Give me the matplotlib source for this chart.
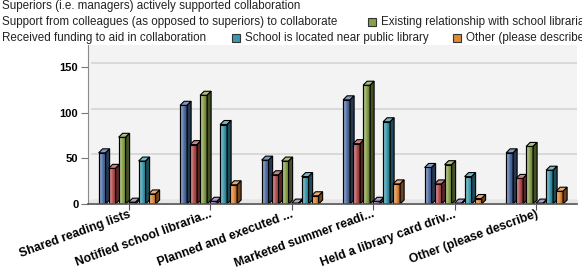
import matplotlib
matplotlib.use("Agg")
import matplotlib.pyplot as plt
import matplotlib.patches as mpatches
from matplotlib.colors import LinearSegmentedColormap, to_rgb
from matplotlib.transforms import blended_transform_factory, ScaledTranslation
import numpy as np

# Data
categories = ["Shared reading lists", "Notified school libraria...", "Planned and executed ...",
              "Marketed summer readi...", "Held a library card driv...", "Other (please describe)"]
series_names = ["Superiors (i.e. managers) actively supported collaboration",
                "Support from colleagues (as opposed to superiors) to collaborate",
                "Existing relationship with school librarian",
                "Received funding to aid in collaboration",
                "School is located near public library",
                "Other (please describe)"]
superiors = [56, 108, 48, 114, 40, 56]
colleagues = [39, 65, 32, 66, 22, 28]
existing = [73, 119, 47, 130, 43, 63]
funding = [2, 3, 1, 3, 1, 1]
near_library = [47, 87, 30, 90, 30, 37]
other = [11, 21, 9, 22, 6, 14]
values = [superiors, colleagues, existing, funding, near_library, other]
colors = ["#4e6fa3", "#b34d4d", "#87a04a", "#8677a8", "#3b98ad", "#e0893a"]


def shade(c, f):
    c = np.array(to_rgb(c))
    if f >= 0:
        return tuple(c + (1 - c) * f)
    return tuple(c * (1 + f))


W, H, DPI = 5.82, 2.73, 100
fig = plt.figure(figsize=(W, H), dpi=DPI)
plt.rcParams['font.family'] = ['Liberation Sans', 'DejaVu Sans']

# axes box in pixels: x 88..577, y 45..204 (from top)
ax = fig.add_axes([88 / 582, 1 - 204 / 273, (577 - 88) / 582, (204 - 45) / 273])
ax.set_facecolor("#f3f3f3")
ymax = 174
ax.set_xlim(-0.5, 5.5)
ax.set_ylim(0, ymax)

px_x = 6 / (577 - 88)          # data units per pixel, x
px_y = ymax / (204 - 45)       # data units per pixel, y
dx, dy = 4 * px_x, 4 * px_y    # 3D depth
pitch = 10 * px_x
bw = 7 * px_x

# back wall grid lines and floor
for g in [50, 100, 150]:
    ax.axhline(g + dy, xmin=dx / 6, color="#d4d4d4", lw=1.2, zorder=0)
ax.axhline(dy, xmin=dx / 6, color="#c8c8c8", lw=1.0, zorder=0)
ax.fill_between([-0.5, 5.5], 0, dy, color="#e6e6e6", zorder=0)

x = np.arange(len(categories))
for i, (vals, col) in enumerate(zip(values, colors)):
    cm = LinearSegmentedColormap.from_list(
        "g%d" % i, [(0, shade(col, -0.15)), (0.22, shade(col, 0.35)),
                    (0.6, col), (1, shade(col, -0.3))])
    xs = x + (i - 2.5) * pitch - 0.02
    z = 2 + i
    bars = ax.bar(xs, vals, width=bw, color=col, edgecolor="black", lw=0.8, zorder=z)
    for b, v in zip(bars, vals):
        l, r = b.get_x(), b.get_x() + b.get_width()
        im = ax.imshow(np.linspace(0, 1, 32).reshape(1, -1), extent=[l, r, 0, v],
                       aspect="auto", cmap=cm, zorder=z, interpolation="bilinear")
        im.set_clip_path(b)
        ax.add_patch(mpatches.Rectangle((l, 0), r - l, v, fill=False,
                                        edgecolor="black", lw=0.8, zorder=z))
        top = [(l, v), (l + dx, v + dy), (r + dx, v + dy), (r, v)]
        side = [(r, 0), (r + dx, dy), (r + dx, v + dy), (r, v)]
        ax.add_patch(mpatches.Polygon(top, closed=True, facecolor=shade(col, 0.3),
                                      edgecolor="black", lw=0.8, zorder=z))
        ax.add_patch(mpatches.Polygon(side, closed=True, facecolor=shade(col, -0.5),
                                      edgecolor="black", lw=0.8, zorder=z))

ax.set_xlim(-0.5, 5.5)
ax.set_ylim(0, ymax)

# axes styling
for s in ["top", "right"]:
    ax.spines[s].set_visible(False)
ax.spines["left"].set_color("#8a8a8a")
ax.spines["bottom"].set_color("#555555")
ax.spines["bottom"].set_linewidth(1.2)
ax.spines["bottom"].set_zorder(20)
ax.set_yticks([0, 50, 100, 150])
ax.set_yticklabels(["0", "50", "100", "150"], fontweight="bold", fontsize=8)
ax.tick_params(axis="y", length=5, width=0.8, color="#777777", pad=2)
ax.set_xticks(x)
ax.set_xticklabels([])
ax.tick_params(axis="x", length=4, width=0.8, color="#555555")

trans = blended_transform_factory(ax.transData, ax.transAxes) + \
    ScaledTranslation(1 / DPI, -10 / DPI, fig.dpi_scale_trans)
for xi, lab in zip(x, categories):
    ax.text(xi, 0, lab, transform=trans, rotation=20, rotation_mode="anchor",
            ha="right", va="center", fontsize=8.8, fontweight="bold", clip_on=False)

# legend, laid out like the flowing legend of the reference (pixel positions)
legend_pos = [(-10, 6), (-10, 22), (368, 22), (-10, 38), (232, 38), (453, 38)]
for (lx, ly), name, col in zip(legend_pos, series_names, colors):
    fig.patches.append(mpatches.Rectangle((lx / 582, 1 - (ly + 4) / 273), 8 / 582, 8 / 273,
                                          transform=fig.transFigure, facecolor=col,
                                          edgecolor="#333333", lw=0.8))
    fig.text((lx + 13) / 582 if lx > 0 else 2 / 582, 1 - ly / 273, name,
             fontsize=8.4, va="center", ha="left", color="#222222")

fig.savefig("out.png", dpi=DPI, facecolor="white")
